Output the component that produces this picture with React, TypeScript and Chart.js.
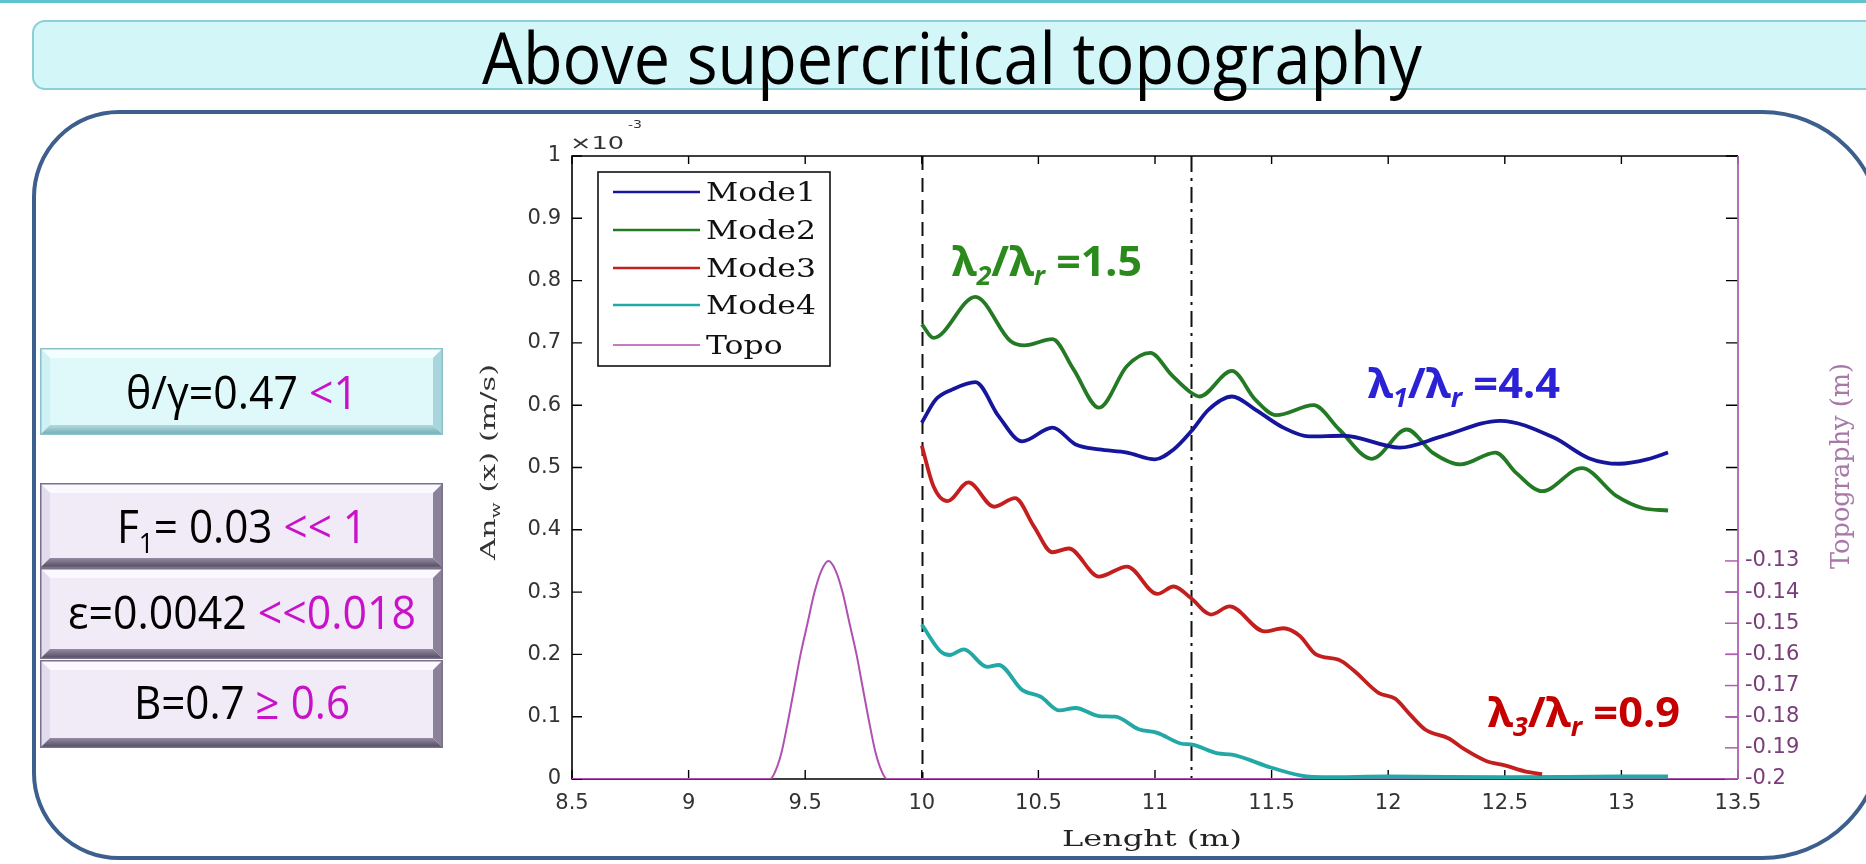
import React, { useEffect, useRef } from "react";
import { Chart, registerables } from "chart.js";

Chart.register(...registerables);

// ---------------- data ----------------
const seriesLabels = ["Mode1", "Mode2", "Mode3", "Mode4", "Topo"];
const seriesColors = ["#16169c", "#247a24", "#c41f1f", "#22a9a5", "#b050b0"];

const mode1X = [10.0, 10.06, 10.13, 10.23, 10.33, 10.43, 10.56, 10.66, 10.76, 10.88, 11.0, 11.08, 11.155, 11.23, 11.33, 11.43, 11.55, 11.66, 11.81, 12.05, 12.23, 12.48, 12.71, 12.86, 12.99, 13.11, 13.2];
const mode1Y = [0.572, 0.609, 0.625, 0.637, 0.582, 0.542, 0.564, 0.537, 0.529, 0.524, 0.513, 0.529, 0.558, 0.593, 0.614, 0.593, 0.564, 0.55, 0.551, 0.532, 0.55, 0.575, 0.548, 0.515, 0.506, 0.513, 0.524];

const mode2X = [10.0, 10.05, 10.23, 10.38, 10.44, 10.56, 10.65, 10.76, 10.88, 10.98, 11.07, 11.155, 11.19, 11.33, 11.43, 11.52, 11.68, 11.79, 11.93, 12.08, 12.19, 12.31, 12.46, 12.55, 12.66, 12.83, 12.98, 13.09, 13.2];
const mode2Y = [0.73, 0.708, 0.774, 0.703, 0.696, 0.706, 0.658, 0.596, 0.663, 0.684, 0.649, 0.62, 0.614, 0.655, 0.609, 0.584, 0.6, 0.561, 0.514, 0.561, 0.524, 0.505, 0.524, 0.491, 0.462, 0.499, 0.454, 0.435, 0.431];

const mode3X = [10.0, 10.05, 10.11, 10.2, 10.31, 10.4, 10.48, 10.56, 10.63, 10.76, 10.88, 11.01, 11.08, 11.155, 11.24, 11.32, 11.47, 11.55, 11.62, 11.69, 11.79, 11.85, 11.96, 12.03, 12.09, 12.16, 12.26, 12.33, 12.42, 12.5, 12.59, 12.66];
const mode3Y = [0.535, 0.47, 0.446, 0.476, 0.437, 0.451, 0.406, 0.364, 0.37, 0.325, 0.341, 0.297, 0.309, 0.29, 0.264, 0.277, 0.237, 0.242, 0.23, 0.2, 0.191, 0.175, 0.138, 0.129, 0.105, 0.079, 0.065, 0.047, 0.029, 0.022, 0.012, 0.008];

const mode4X = [10.0, 10.08, 10.12, 10.18, 10.28, 10.33, 10.43, 10.51, 10.59, 10.66, 10.76, 10.83, 10.93, 11.01, 11.11, 11.16, 11.27, 11.33, 11.5, 11.65, 11.72, 12.0, 12.5, 13.0, 13.2];
const mode4Y = [0.248, 0.205, 0.199, 0.208, 0.18, 0.183, 0.143, 0.132, 0.11, 0.114, 0.101, 0.1, 0.08, 0.074, 0.057, 0.055, 0.041, 0.039, 0.018, 0.004, 0.003, 0.004, 0.003, 0.004, 0.004];

// topography (m), right axis
const topoX = [8.5, 9.35, 9.38, 9.4, 9.43, 9.455, 9.48, 9.51, 9.54, 9.57, 9.6, 9.63, 9.66, 9.69, 9.72, 9.745, 9.77, 9.8, 9.82, 9.85, 13.5];
const topoY = [-0.2, -0.2, -0.196, -0.191, -0.18, -0.17, -0.16, -0.15, -0.14, -0.133, -0.13, -0.133, -0.14, -0.15, -0.16, -0.17, -0.18, -0.191, -0.196, -0.2, -0.2];

const xRange = [8.5, 13.5];
const yLeftRange = [0, 1];
const yRightRange = [-0.2, 0];
const yRightLabelMax = -0.13;
const refLineX = [10, 11.155];

const titleText = "Above supercritical topography";
const xTitle = "Lenght (m)";
const yRightTitle = "Topography (m)";

// ---------------- helpers ----------------
type Part = { t: string; color?: string; sub?: boolean; sup?: boolean; italic?: boolean };

const W = 1866;
const H = 864;
const SANS = '"DejaVu Sans", sans-serif';
const SERIF = '"DejaVu Serif", serif';
const OPEN = '"Open Sans", "Noto Sans", sans-serif';
const BOLDF = '"Noto Sans", "Open Sans", sans-serif';
const MAG = "#c812c8";

function partFonts(parts: Part[], size: number, family: string, weight: string) {
  return parts.map((p) => {
    const s = p.sub || p.sup ? size * 0.62 : size;
    const st = p.italic ? "italic" : "normal";
    return `${st} ${weight} ${s}px ${family}`;
  });
}

function measureRich(ctx: CanvasRenderingContext2D, parts: Part[], size: number, family: string, weight: string) {
  const fonts = partFonts(parts, size, family, weight);
  let total = 0;
  parts.forEach((p, i) => {
    ctx.font = fonts[i];
    total += ctx.measureText(p.t).width;
  });
  return total;
}

// fit: target width (number) or {s: scale}
function drawRich(
  ctx: CanvasRenderingContext2D,
  parts: Part[],
  x: number,
  y: number,
  size: number,
  family: string,
  weight: string,
  fit: number | { s: number } | null,
  align: "left" | "center",
  defColor: string
) {
  const fonts = partFonts(parts, size, family, weight);
  const widths: number[] = [];
  let total = 0;
  parts.forEach((p, i) => {
    ctx.font = fonts[i];
    const w = ctx.measureText(p.t).width;
    widths.push(w);
    total += w;
  });
  const sc = fit == null ? 1 : typeof fit === "number" ? fit / total : fit.s;
  const drawnW = total * sc;
  const x0 = align === "center" ? x - drawnW / 2 : x;
  ctx.save();
  ctx.translate(x0, y);
  ctx.scale(sc, 1);
  ctx.textAlign = "left";
  ctx.textBaseline = "alphabetic";
  let cx = 0;
  parts.forEach((p, i) => {
    ctx.font = fonts[i];
    ctx.fillStyle = p.color || defColor;
    const dy = p.sub ? size * 0.22 : p.sup ? -size * 0.42 : 0;
    ctx.fillText(p.t, cx, dy);
    cx += widths[i];
  });
  ctx.restore();
}

function poly(ctx: CanvasRenderingContext2D, pts: number[][], fill: string | CanvasGradient) {
  ctx.beginPath();
  ctx.moveTo(pts[0][0], pts[0][1]);
  for (let i = 1; i < pts.length; i++) ctx.lineTo(pts[i][0], pts[i][1]);
  ctx.closePath();
  ctx.fillStyle = fill;
  ctx.fill();
}

type Bev = { face: string; top: string; left: string; right: string; bottomA: string; bottomB: string; edge: string };

function bevelBox(ctx: CanvasRenderingContext2D, x: number, y: number, w: number, h: number, c: Bev) {
  const b = 10;
  ctx.fillStyle = c.face;
  ctx.fillRect(x, y, w, h);
  poly(ctx, [[x, y], [x + w, y], [x + w - b, y + b], [x + b, y + b]], c.top);
  poly(ctx, [[x, y], [x + b, y + b], [x + b, y + h - b], [x, y + h]], c.left);
  poly(ctx, [[x + w, y], [x + w, y + h], [x + w - b, y + h - b], [x + w - b, y + b]], c.right);
  const g = ctx.createLinearGradient(0, y + h - b, 0, y + h);
  g.addColorStop(0, c.bottomA);
  g.addColorStop(1, c.bottomB);
  poly(ctx, [[x, y + h], [x + b, y + h - b], [x + w - b, y + h - b], [x + w, y + h]], g);
  ctx.strokeStyle = c.edge;
  ctx.lineWidth = 1.5;
  ctx.strokeRect(x + 0.75, y + 0.75, w - 1.5, h - 1.5);
}

const cyanBev: Bev = { face: "#dff9fb", top: "#f3feff", left: "#cdf1f5", right: "#a9d6dc", bottomA: "#b3dbe0", bottomB: "#6ea8b0", edge: "#8cc2c9" };
const lilacBev: Bev = { face: "#f1ebf8", top: "#fbf8ff", left: "#e3dbee", right: "#8b8199", bottomA: "#958ba3", bottomB: "#4d4659", edge: "#7a7089" };

const boxes: { y: number; h: number; bev: Bev; parts: Part[]; w: number; base: number }[] = [
  { y: 348, h: 87, bev: cyanBev, parts: [{ t: "θ/γ=0.47 " }, { t: "<1", color: MAG }], w: 232, base: 409 },
  { y: 483, h: 85, bev: lilacBev, parts: [{ t: "F" }, { t: "1", sub: true }, { t: "= 0.03 " }, { t: "<< 1", color: MAG }], w: 250, base: 543 },
  { y: 568, h: 91, bev: lilacBev, parts: [{ t: "ε=0.0042 " }, { t: "<<0.018", color: MAG }], w: 348, base: 629 },
  { y: 660, h: 88, bev: lilacBev, parts: [{ t: "B=0.7 " }, { t: "≥ 0.6", color: MAG }], w: 216, base: 719 },
];

const annotations: { parts: Part[]; x: number; base: number; w: number; color: string }[] = [
  { parts: [{ t: "λ" }, { t: "2", sub: true, italic: true }, { t: "/λ" }, { t: "r", sub: true, italic: true }, { t: " =1.5" }], x: 952, base: 276, w: 190, color: "#2a8a1c" },
  { parts: [{ t: "λ" }, { t: "1", sub: true, italic: true }, { t: "/λ" }, { t: "r", sub: true, italic: true }, { t: " =4.4" }], x: 1368, base: 398, w: 192, color: "#2b22d6" },
  { parts: [{ t: "λ" }, { t: "3", sub: true, italic: true }, { t: "/λ" }, { t: "r", sub: true, italic: true }, { t: " =0.9" }], x: 1488, base: 727, w: 192, color: "#c40000" },
];

const decorPlugin = {
  id: "decor",
  beforeDraw(chart: any) {
    const ctx: CanvasRenderingContext2D = chart.ctx;
    ctx.save();
    ctx.fillStyle = "#ffffff";
    ctx.fillRect(0, 0, W, H);
    // top line
    ctx.fillStyle = "#5fc4cc";
    ctx.fillRect(0, 0, W, 3);
    // banner
    ctx.beginPath();
    (ctx as any).roundRect(33, 21, 1880, 68, 12);
    ctx.fillStyle = "#d3f6f9";
    ctx.fill();
    ctx.strokeStyle = "#8ccfd6";
    ctx.lineWidth = 2;
    ctx.stroke();
    drawRich(ctx, [{ t: titleText }], 952, 84, 72, OPEN, "normal", 940, "center", "#000");
    // frame
    ctx.beginPath();
    (ctx as any).roundRect(34, 112, 1848, 746, [85, 120, 120, 85]);
    ctx.strokeStyle = "#3c5f8d";
    ctx.lineWidth = 4;
    ctx.stroke();
    // parameter boxes
    boxes.forEach((b) => {
      bevelBox(ctx, 40, b.y, 403, b.h, b.bev);
      drawRich(ctx, b.parts, 242, b.base, 45, OPEN, "normal", b.w, "center", "#000");
    });
    ctx.restore();
  },
  beforeDatasetsDraw(chart: any) {
    const ctx: CanvasRenderingContext2D = chart.ctx;
    const a = chart.chartArea;
    const xs = chart.scales.x;
    const ys = chart.scales.y;
    ctx.save();
    // reference lines
    ctx.strokeStyle = "#111";
    ctx.lineWidth = 2;
    refLineX.forEach((v, i) => {
      const px = Math.round(xs.getPixelForValue(v)) + 0.5;
      ctx.setLineDash(i === 0 ? [14, 8] : [16, 6, 3, 6]);
      ctx.beginPath();
      ctx.moveTo(px, a.top);
      ctx.lineTo(px, a.bottom);
      ctx.stroke();
    });
    ctx.setLineDash([]);
    // box
    ctx.strokeStyle = "#000";
    ctx.lineWidth = 1.6;
    ctx.beginPath();
    ctx.moveTo(a.right, a.top);
    ctx.lineTo(a.left, a.top);
    ctx.lineTo(a.left, a.bottom);
    ctx.lineTo(a.right, a.bottom);
    ctx.stroke();
    // x ticks (bottom and top, inward)
    ctx.lineWidth = 1.4;
    xs.ticks.forEach((t: any) => {
      const px = xs.getPixelForValue(t.value);
      ctx.beginPath();
      ctx.moveTo(px, a.bottom);
      ctx.lineTo(px, a.bottom - 9);
      ctx.moveTo(px, a.top);
      ctx.lineTo(px, a.top + 8);
      ctx.stroke();
    });
    // y ticks left and mirrored right
    ys.ticks.forEach((t: any) => {
      const py = ys.getPixelForValue(t.value);
      ctx.beginPath();
      ctx.moveTo(a.left, py);
      ctx.lineTo(a.left + 10, py);
      ctx.moveTo(a.right, py);
      ctx.lineTo(a.right - 12, py);
      ctx.stroke();
    });
    ctx.restore();
  },
  afterDatasetsDraw(chart: any) {
    const ctx: CanvasRenderingContext2D = chart.ctx;
    const a = chart.chartArea;
    const y2 = chart.scales.y2;
    ctx.save();
    // right axis (purple)
    ctx.strokeStyle = "#b060b0";
    ctx.lineWidth = 1.8;
    ctx.beginPath();
    ctx.moveTo(a.right, a.top);
    ctx.lineTo(a.right, a.bottom);
    ctx.stroke();
    ctx.lineWidth = 1.5;
    y2.ticks.forEach((t: any) => {
      const py = y2.getPixelForValue(t.value);
      ctx.beginPath();
      ctx.moveTo(a.right, py);
      ctx.lineTo(a.right - 13, py);
      ctx.stroke();
    });
    // legend
    const lx = 598, ly = 172, lw = 232, lh = 194;
    ctx.fillStyle = "#fff";
    ctx.fillRect(lx, ly, lw, lh);
    ctx.strokeStyle = "#111";
    ctx.lineWidth = 1.6;
    ctx.strokeRect(lx, ly, lw, lh);
    const rows = [192, 230, 268, 305, 345];
    const legSize = 26;
    const legScale = 110 / measureRich(ctx, [{ t: "Mode1" }], legSize, SERIF, "normal");
    chart.data.datasets.forEach((ds: any, i: number) => {
      const ry = rows[i];
      ctx.strokeStyle = ds.borderColor;
      ctx.lineWidth = i === 4 ? 1.5 : 2.6;
      ctx.beginPath();
      ctx.moveTo(613, ry);
      ctx.lineTo(700, ry);
      ctx.stroke();
      drawRich(ctx, [{ t: ds.label }], 706, ry + 9, legSize, SERIF, "normal", { s: legScale }, "left", "#111");
    });
    // annotations
    annotations.forEach((an) => {
      drawRich(ctx, an.parts, an.x, an.base, 42, BOLDF, "bold", an.w, "left", an.color);
    });
    // exponent label
    drawRich(ctx, [{ t: "×10" }], 570, 149, 18, SANS, "normal", 54, "left", "#333");
    drawRich(ctx, [{ t: "-3" }], 628, 128, 11, SANS, "normal", 14, "left", "#333");
    // x title
    drawRich(ctx, [{ t: xTitle }], 1152, 846, 23, SERIF, "normal", 180, "center", "#222");
    // left y title
    ctx.save();
    ctx.translate(488, 462);
    ctx.rotate(-Math.PI / 2);
    drawRich(ctx, [{ t: "An" }, { t: "w", sub: true }, { t: " (x) (m/s)" }], 0, 7, 21, SERIF, "normal", 196, "center", "#333");
    ctx.restore();
    // right y title
    ctx.save();
    ctx.translate(1840, 466);
    ctx.rotate(-Math.PI / 2);
    drawRich(ctx, [{ t: yRightTitle }], 0, 9, 26, SERIF, "normal", 206, "center", "#a878a8");
    ctx.restore();
    ctx.restore();
  },
};

function pts(xs: number[], ys: number[]) {
  return xs.map((x, i) => ({ x, y: ys[i] }));
}

export default function App() {
  const ref = useRef<HTMLCanvasElement | null>(null);
  useEffect(() => {
    if (!ref.current) return;
    const seriesX = [mode1X, mode2X, mode3X, mode4X];
    const seriesY = [mode1Y, mode2Y, mode3Y, mode4Y];
    const datasets: any[] = seriesX.map((xs, i) => ({
      label: seriesLabels[i],
      data: pts(xs, seriesY[i]),
      borderColor: seriesColors[i],
      backgroundColor: seriesColors[i],
      borderWidth: 3.8,
      pointRadius: 0,
      cubicInterpolationMode: "monotone",
      fill: false,
      yAxisID: "y",
    }));
    datasets.push({
      label: seriesLabels[4],
      data: pts(topoX, topoY),
      borderColor: seriesColors[4],
      backgroundColor: seriesColors[4],
      borderWidth: 2,
      pointRadius: 0,
      cubicInterpolationMode: "monotone",
      fill: false,
      yAxisID: "y2",
    });
    const tickFont = { family: SANS, size: 21 };
    const chart = new Chart(ref.current, {
      type: "line",
      data: { datasets },
      options: {
        responsive: false,
        animation: false,
        devicePixelRatio: 1,
        layout: { padding: { left: 492, right: 48, top: 156, bottom: 35 } },
        plugins: { legend: { display: false }, tooltip: { enabled: false } },
        scales: {
          x: {
            type: "linear",
            position: "bottom",
            min: xRange[0],
            max: xRange[1],
            grid: { display: false, drawTicks: false },
            border: { display: false },
            ticks: {
              stepSize: 0.5,
              padding: 12,
              color: "#333",
              font: tickFont,
              maxRotation: 0,
              autoSkip: false,
              callback: (v: any) => String(Math.round(Number(v) * 10) / 10),
            },
            afterFit: (s: any) => {
              s.height = 50;
            },
          },
          y: {
            type: "linear",
            position: "left",
            min: yLeftRange[0],
            max: yLeftRange[1],
            grid: { display: false, drawTicks: false },
            border: { display: false },
            ticks: {
              stepSize: 0.1,
              padding: 11,
              color: "#333",
              font: tickFont,
              callback: (v: any) => String(Math.round(Number(v) * 10) / 10),
            },
            afterFit: (s: any) => {
              s.width = 80;
            },
          },
          y2: {
            type: "linear",
            position: "right",
            min: yRightRange[0],
            max: yRightRange[1],
            grid: { display: false, drawTicks: false },
            border: { display: false },
            ticks: {
              stepSize: 0.01,
              padding: 7,
              color: "#7a3c7a",
              font: tickFont,
              autoSkip: false,
              callback: (v: any) => String(Math.round(Number(v) * 100) / 100),
            },
            afterBuildTicks: (s: any) => {
              s.ticks = s.ticks.filter((t: any) => t.value < yRightLabelMax + 0.005);
            },
            afterFit: (s: any) => {
              s.width = 80;
            },
          },
        },
      } as any,
      plugins: [decorPlugin as any],
    });
    return () => chart.destroy();
  }, []);
  return (
    <div style={{ position: "absolute", left: 0, top: 0, width: W, height: H, overflow: "hidden", background: "#fff" }}>
      <canvas ref={ref} width={W} height={H} style={{ width: W, height: H, display: "block" }} />
    </div>
  );
}
